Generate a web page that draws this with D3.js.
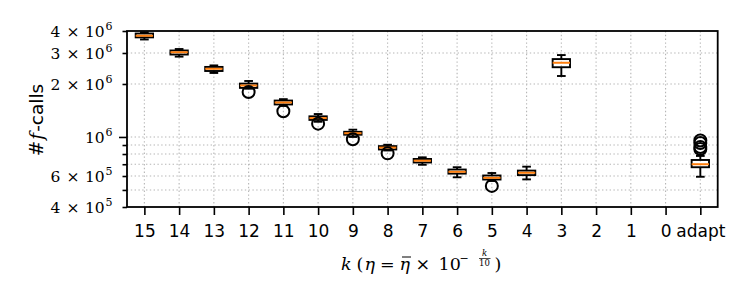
<!DOCTYPE html>
<html>
<head>
<meta charset="utf-8">
<script src="https://cdn.jsdelivr.net/npm/d3@7"></script>
<style>
  body { margin: 0; background: #fff; }
  svg { display: block; }
</style>
</head>
<body>
<div id="chart"></div>
<script>
// values (f-calls per k), null = no runs
const categories  = ["15","14","13","12","11","10","9","8","7","6","5","4","3","2","1","0","adapt"];
const whiskerLow  = [3.58e6, 2.86e6, 2.31e6, 1.88e6, 1.50e6, 1.22e6, 1.00e6, 8.38e5, 6.95e5, 5.90e5, 5.62e5, 5.74e5, 2.22e6, null, null, null, 5.94e5];
const quart1      = [3.68e6, 2.94e6, 2.37e6, 1.90e6, 1.53e6, 1.25e6, 1.03e6, 8.49e5, 7.16e5, 6.19e5, 5.73e5, 6.07e5, 2.49e6, null, null, null, 6.73e5];
const medians     = [3.76e6, 3.03e6, 2.44e6, 1.96e6, 1.57e6, 1.28e6, 1.05e6, 8.70e5, 7.33e5, 6.34e5, 5.86e5, 6.26e5, 2.64e6, null, null, null, 7.00e5];
const quart3      = [3.87e6, 3.10e6, 2.50e6, 2.01e6, 1.61e6, 1.31e6, 1.07e6, 8.87e5, 7.50e5, 6.53e5, 6.04e5, 6.44e5, 2.77e6, null, null, null, 7.40e5];
const whiskerHigh = [3.93e6, 3.16e6, 2.55e6, 2.08e6, 1.64e6, 1.35e6, 1.10e6, 9.03e5, 7.66e5, 6.73e5, 6.24e5, 6.78e5, 2.92e6, null, null, null, 7.80e5];
const fliers      = [[], [], [], [1.80e6], [1.40e6], [1.19e6], [9.7e5], [8.07e5], [], [], [5.27e5], [], [], [], [], [], [8.55e5, 8.77e5, 9.24e5, 9.55e5]];

const yLabelTicks = [4e5, 6e5, 1e6, 2e6, 3e6, 4e6];
const yTickText   = [["4", "5"], ["6", "5"], [null, "6"], ["2", "6"], ["3", "6"], ["4", "6"]];
const yMinorTicks = [4e5, 5e5, 6e5, 7e5, 8e5, 9e5, 2e6, 3e6, 4e6];
const yMajorTicks = [1e6];

const W = 747, H = 299;
const pLeft = 127, pRight = 717.7, pTop = 31, pBottom = 207;
const serif = "DejaVu Serif";

const svg = d3.select("#chart").append("svg").attr("width", W).attr("height", H)
svg.append("rect").attr("width", W).attr("height", H).attr("fill", "#fff")

const x = d3.scalePoint().domain(categories).range([pLeft, pRight]).padding(0.5)
const y = d3.scaleLog().domain([4e5, 4e6]).range([pBottom, pTop])
const boxW = x.step() * 0.5

// grid
const grid = svg.append("g").attr("stroke", "#b5b5b5").attr("stroke-width", 1.1).attr("stroke-dasharray", "1.4,2.4")
grid.selectAll(".gx").data(categories).join("line")
  .attr("x1", d => x(d)).attr("x2", d => x(d)).attr("y1", pTop).attr("y2", pBottom)
grid.selectAll(".gy").data(yMinorTicks.concat(yMajorTicks).filter(v => v > 4e5 && v < 4e6)).join("line")
  .attr("x1", pLeft).attr("x2", pRight).attr("y1", d => y(d)).attr("y2", d => y(d))

// axes
svg.append("g").attr("transform", `translate(0,${pBottom})`)
  .call(d3.axisBottom(x).tickSize(8).tickSizeOuter(0).tickPadding(6))
  .call(g => g.select(".domain").remove())
  .call(g => g.selectAll("line").attr("stroke", "#000").attr("stroke-width", 1.6))
  .call(g => g.selectAll("text").attr("font-family", "DejaVu Sans").attr("font-size", 17).attr("fill", "#000").attr("dy", "0.93em"))

svg.append("g").attr("transform", `translate(${pLeft},0)`)
  .call(d3.axisLeft(y).tickValues(yMinorTicks).tickSize(4.5).tickSizeOuter(0).tickFormat(""))
  .call(g => g.select(".domain").remove())
  .call(g => g.selectAll("line").attr("stroke", "#000").attr("stroke-width", 1.6))
svg.append("g").attr("transform", `translate(${pLeft},0)`)
  .call(d3.axisLeft(y).tickValues(yMajorTicks).tickSize(8).tickSizeOuter(0).tickFormat(""))
  .call(g => g.select(".domain").remove())
  .call(g => g.selectAll("line").attr("stroke", "#000").attr("stroke-width", 1.6))

// y tick labels like "4 × 10^5"
yLabelTicks.forEach((v, i) => {
  const base = y(v) + 6.2
  const g = svg.append("g").attr("font-family", serif).attr("font-size", 15.5).attr("fill", "#000")
  const [m, e] = yTickText[i]
  if (m) {
    g.append("text").attr("x", 50.5).attr("y", base).text(m)
    g.append("text").attr("x", 66.5).attr("y", base).text("\u00d7")
  }
  g.append("text").attr("x", 85).attr("y", base).text("10")
  g.append("text").attr("x", 105.5).attr("y", base - 7.5).attr("font-size", 11).text(e)
})

// boxes
const stats = categories.map((c, i) => ({c, lo: whiskerLow[i], q1: quart1[i], med: medians[i], q3: quart3[i], hi: whiskerHigh[i], out: fliers[i]}))
  .filter(d => d.med != null)

const boxes = svg.append("g").attr("stroke", "#000").attr("stroke-width", 1.9).attr("fill", "none")
boxes.selectAll(".box").data(stats).join("rect")
  .attr("x", d => x(d.c) - boxW / 2).attr("width", boxW)
  .attr("y", d => y(d.q3)).attr("height", d => y(d.q1) - y(d.q3))
boxes.selectAll(".wl").data(stats).join("line")
  .attr("x1", d => x(d.c)).attr("x2", d => x(d.c)).attr("y1", d => y(d.q1)).attr("y2", d => y(d.lo))
boxes.selectAll(".wh").data(stats).join("line")
  .attr("x1", d => x(d.c)).attr("x2", d => x(d.c)).attr("y1", d => y(d.q3)).attr("y2", d => y(d.hi))
boxes.selectAll(".cl").data(stats).join("line")
  .attr("x1", d => x(d.c) - boxW / 4).attr("x2", d => x(d.c) + boxW / 4).attr("y1", d => y(d.lo)).attr("y2", d => y(d.lo))
boxes.selectAll(".ch").data(stats).join("line")
  .attr("x1", d => x(d.c) - boxW / 4).attr("x2", d => x(d.c) + boxW / 4).attr("y1", d => y(d.hi)).attr("y2", d => y(d.hi))

svg.append("g").selectAll("line").data(stats).join("line")
  .attr("x1", d => x(d.c) - boxW / 2).attr("x2", d => x(d.c) + boxW / 2)
  .attr("y1", d => y(d.med)).attr("y2", d => y(d.med))
  .attr("stroke", "#ff7f0e").attr("stroke-width", 2)

const pts = stats.flatMap(d => d.out.map(v => ({c: d.c, v})))
svg.append("g").selectAll("circle").data(pts).join("circle")
  .attr("cx", d => x(d.c)).attr("cy", d => y(d.v)).attr("r", 6)
  .attr("fill", "none").attr("stroke", "#000").attr("stroke-width", 2)

// frame
svg.append("rect").attr("x", pLeft).attr("y", pTop).attr("width", pRight - pLeft).attr("height", pBottom - pTop)
  .attr("fill", "none").attr("stroke", "#000").attr("stroke-width", 1.8)

// y label "#f-calls"
const yl = svg.append("text").attr("transform", `translate(43,120) rotate(-90)`)
  .attr("text-anchor", "middle").attr("font-size", 18.5).attr("fill", "#000")
yl.append("tspan").attr("font-family", serif).text("#")
yl.append("tspan").attr("font-family", serif).attr("font-style", "italic").attr("dx", 1).text("f")
yl.append("tspan").attr("font-family", "DejaVu Sans").attr("dx", 1).text("-calls")

// x label  k (η = η̄ × 10^{-k/10})
const xl = svg.append("g").attr("font-family", serif).attr("font-size", 17.5).attr("fill", "#000")
const bl = 270
xl.append("text").attr("x", 341).attr("y", bl).attr("font-style", "italic").text("k")
xl.append("text").attr("x", 356.5).attr("y", bl).text("(")
xl.append("text").attr("x", 364.5).attr("y", bl).attr("font-style", "italic").text("\u03b7")
xl.append("text").attr("x", 380).attr("y", bl).text("=")
xl.append("text").attr("x", 399.5).attr("y", bl).attr("font-style", "italic").text("\u03b7")
xl.append("line").attr("x1", 402).attr("x2", 411).attr("y1", bl - 13).attr("y2", bl - 13).attr("stroke", "#000").attr("stroke-width", 1)
xl.append("text").attr("x", 415.5).attr("y", bl).text("\u00d7")
xl.append("text").attr("x", 438.5).attr("y", bl).text("10")
xl.append("text").attr("x", 459.5).attr("y", bl - 8).attr("font-size", 11).text("\u2212")
xl.append("text").attr("x", 484.5).attr("y", bl - 14.5).attr("text-anchor", "middle").attr("font-style", "italic").attr("font-size", 8.5).text("k")
xl.append("line").attr("x1", 479).attr("x2", 490.5).attr("y1", bl - 11.5).attr("y2", bl - 11.5).attr("stroke", "#000").attr("stroke-width", 0.7)
xl.append("text").attr("x", 484.5).attr("y", bl - 4).attr("text-anchor", "middle").attr("font-size", 8.5).text("10")
xl.append("text").attr("x", 494.5).attr("y", bl).text(")")
</script>
</body>
</html>
